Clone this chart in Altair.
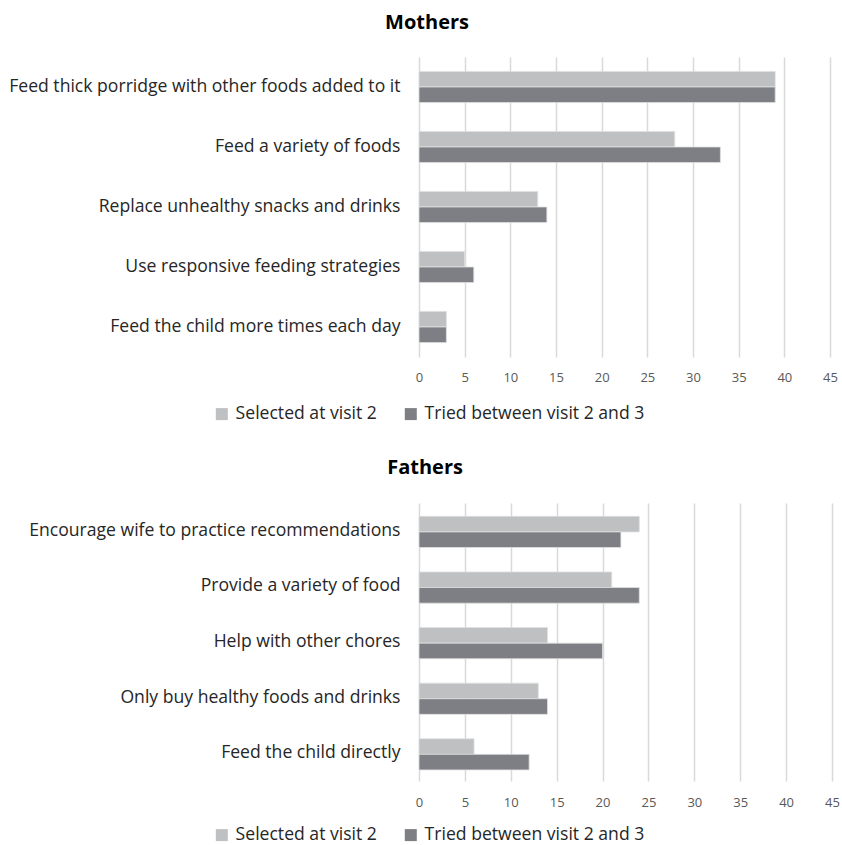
import altair as alt
import pandas as pd

series = ["Selected at visit 2", "Tried between visit 2 and 3"]
colors = ["#bfc0c2", "#7e7f84"]
ticks = [0, 5, 10, 15, 20, 25, 30, 35, 40, 45]

mothers_cats = [
    "Feed thick porridge with other foods added to it",
    "Feed a variety of foods",
    "Replace unhealthy snacks and drinks",
    "Use responsive feeding strategies",
    "Feed the child more times each day",
]
mothers_selected = [39, 28, 13, 5, 3]
mothers_tried = [39, 33, 14, 6, 3]

fathers_cats = [
    "Encourage wife to practice recommendations",
    "Provide a variety of food",
    "Help with other chores",
    "Only buy healthy foods and drinks",
    "Feed the child directly",
]
fathers_selected = [24, 21, 14, 13, 6]
fathers_tried = [22, 24, 20, 14, 12]

FONT = "Open Sans"
LABEL_COLOR = "#262626"
LABEL_SIZE = 17.6


def make_df(cats, sel, tried):
    rows = []
    for c, s, t in zip(cats, sel, tried):
        rows.append({"cat": c, "series": series[0], "value": s})
        rows.append({"cat": c, "series": series[1], "value": t})
    return pd.DataFrame(rows)


def panel(title, cats, sel, tried, width, height, legend_y, title_offset, title_dx, tick_pad):
    df = make_df(cats, sel, tried)
    return (
        alt.Chart(df)
        .mark_bar(stroke="#e0e0e0", strokeWidth=0.8)
        .encode(
            y=alt.Y(
                "cat:N",
                sort=cats,
                title=None,
                scale=alt.Scale(paddingInner=0.48, paddingOuter=0.24),
                axis=alt.Axis(
                    domain=False,
                    ticks=False,
                    labelPadding=19,
                    labelFont=FONT,
                    labelFontSize=LABEL_SIZE,
                    labelColor=LABEL_COLOR,
                    labelLimit=500,
                ),
            ),
            yOffset=alt.YOffset(
                "series:N",
                sort=series,
                scale=alt.Scale(paddingInner=0, paddingOuter=0),
            ),
            x=alt.X(
                "value:Q",
                title=None,
                scale=alt.Scale(domain=[0, 45], nice=False),
                axis=alt.Axis(
                    values=ticks,
                    domain=False,
                    ticks=False,
                    labelFlush=False,
                    labelPadding=tick_pad,
                    labelFont=FONT,
                    labelFontSize=13,
                    labelColor="#595959",
                    grid=True,
                    gridColor="#d9d9d9",
                    gridWidth=1.5,
                ),
            ),
            color=alt.Color(
                "series:N",
                sort=series,
                scale=alt.Scale(domain=series, range=colors),
                legend=alt.Legend(
                    title=None,
                    orient="none",
                    direction="horizontal",
                    legendX=-206,
                    legendY=legend_y,
                    symbolType="square",
                    symbolSize=144,
                    symbolStrokeWidth=0,
                    labelFont=FONT,
                    labelFontSize=LABEL_SIZE,
                    labelColor=LABEL_COLOR,
                    labelOffset=5,
                    columnPadding=25,
                    padding=0,
                    labelLimit=400,
                ),
            ),
        )
        .properties(
            width=width,
            height=height,
            view=alt.ViewBackground(stroke="transparent", strokeWidth=0),
            title=alt.TitleParams(
                title,
                font=FONT,
                fontSize=20,
                fontWeight="bold",
                color="#000000",
                anchor="middle",
                frame="bounds",
                offset=title_offset,
                dx=title_dx,
            ),
        )
    )


mothers = panel("Mothers", mothers_cats, mothers_selected, mothers_tried, 411, 300, 348, 24, 4, 14)
fathers = panel("Fathers", fathers_cats, fathers_selected, fathers_tried, 413, 278, 323, 25, -9, 15)

chart = (
    alt.vconcat(mothers, fathers, spacing=35)
    .resolve_scale(color="independent", x="independent")
    .configure_view(stroke="transparent", strokeWidth=0)
    .configure(padding={"left": 8, "top": 13, "right": 0, "bottom": 0})
)

chart.save("out.html", embed_options={"renderer": "svg", "actions": False})
